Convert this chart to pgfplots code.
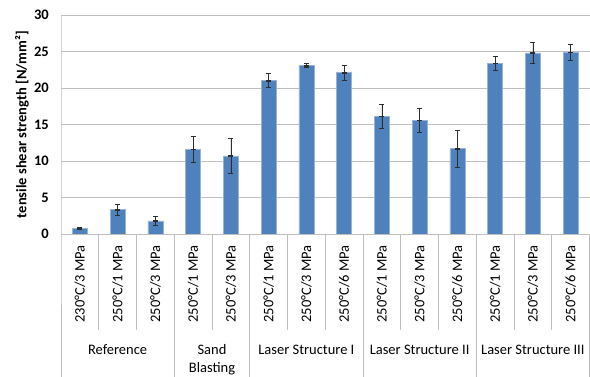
\documentclass[border=0pt]{standalone}
\usepackage{pgfplots}
\pgfplotsset{compat=1.18}
\usepackage{pgfplotstable}
\usetikzlibrary{arrows.meta}
\usepackage{fontspec}
\setmainfont{Carlito}

% position, mean strength, standard deviation
\pgfplotstableread{
x     y      err
0.5   0.78   0.12
1.5   3.33   0.80
2.5   1.80   0.60
3.5   11.60  1.80
4.5   10.70  2.40
5.5   21.00  1.00
6.5   23.06  0.30
7.5   22.10  1.10
8.5   16.10  1.70
9.5   15.60  1.65
10.5  11.70  2.60
11.5  23.40  1.00
12.5  24.80  1.50
13.5  24.90  1.10
}\strength

\definecolor{barblue}{RGB}{79,129,189}
\definecolor{baredge}{RGB}{150,180,218}
\definecolor{gridgray}{RGB}{191,191,191}
\definecolor{errgray}{RGB}{45,45,45}

\newcommand{\lblfont}{\fontsize{14.5}{18}\selectfont}

\tikzset{
  sepline/.style={gridgray, line width=0.9pt},
  grouplbl/.style={font=\lblfont, anchor=base},
}

\begin{document}
\begin{tikzpicture}
\path[use as bounding box] (-61pt,-143pt) rectangle (529pt,234pt);
\begin{axis}[
  at={(0pt,0pt)}, anchor=south west,
  scale only axis, width=528.5pt, height=219pt,
  xmin=0, xmax=14, ymin=0, ymax=30,
  ytick={0,5,...,30},
  xtick={0.5,1.5,...,13.5},
  xticklabels={230°C/3 MPa,250°C/1 MPa,250°C/3 MPa,
               250°C/1 MPa,250°C/3 MPa,
               250°C/1 MPa,250°C/3 MPa,250°C/6 MPa,
               250°C/1 MPa,250°C/3 MPa,250°C/6 MPa,
               250°C/1 MPa,250°C/3 MPa,250°C/6 MPa},
  major tick length=0pt,
  ymajorgrids,
  grid style={gridgray, line width=0.9pt},
  axis line style={draw=none},
  /pgf/number format/assume math mode=true,
  yticklabel style={font=\lblfont\bfseries, anchor=east, inner sep=0pt, xshift=-12pt},
  xticklabel style={font=\lblfont, rotate=90, anchor=east, inner sep=0pt},
  xticklabel shift=11pt,
  ylabel={tensile shear strength [N/mm²]},
  every axis y label/.style={at={(axis description cs:0,0.5)}, xshift=-39pt,
    rotate=90, anchor=center, font=\lblfont\bfseries},
  clip=false,
]
\addplot[ybar, bar width=0.4, bar shift=0pt,
  fill=barblue, draw=baredge, line width=0.6pt,
  error bars/.cd, y dir=both, y explicit,
  error mark=none,
  error bar style={errgray, line width=0.6pt, fill=none,
    {Bar[width=4.8pt, line width=0.6pt]}-{Bar[width=4.8pt, line width=0.6pt]}}]
  table[x=x, y=y, y error=err] {\strength};

% category axis and separators
\draw[sepline] (axis cs:0,0) -- (axis cs:14,0);
\draw[sepline] (axis cs:0,30) -- (axis cs:0,0) -- ++(0,-143pt);
\draw[sepline] (axis cs:3,0) -- ++(0,-143pt);
\draw[sepline] (axis cs:5,0) -- ++(0,-143pt);
\draw[sepline] (axis cs:8,0) -- ++(0,-143pt);
\draw[sepline] (axis cs:11,0) -- ++(0,-143pt);
\draw[sepline] (axis cs:14,0) -- ++(0,-143pt);
\draw[sepline] (axis cs:1,0) -- ++(0,-96pt);
\draw[sepline] (axis cs:2,0) -- ++(0,-96pt);
\draw[sepline] (axis cs:4,0) -- ++(0,-96pt);
\draw[sepline] (axis cs:6,0) -- ++(0,-96pt);
\draw[sepline] (axis cs:7,0) -- ++(0,-96pt);
\draw[sepline] (axis cs:9,0) -- ++(0,-96pt);
\draw[sepline] (axis cs:10,0) -- ++(0,-96pt);
\draw[sepline] (axis cs:12,0) -- ++(0,-96pt);
\draw[sepline] (axis cs:13,0) -- ++(0,-96pt);

% group labels
\node[grouplbl, yshift=-121pt] at (axis cs:1.5,0) {Reference};
\node[grouplbl, yshift=-121pt] at (axis cs:4,0) {Sand};
\node[grouplbl, yshift=-139pt] at (axis cs:4,0) {Blasting};
\node[grouplbl, yshift=-121pt] at (axis cs:6.5,0) {Laser Structure I};
\node[grouplbl, yshift=-121pt] at (axis cs:9.5,0) {Laser Structure II};
\node[grouplbl, yshift=-121pt] at (axis cs:12.5,0) {Laser Structure III};
\end{axis}
\end{tikzpicture}
\end{document}
